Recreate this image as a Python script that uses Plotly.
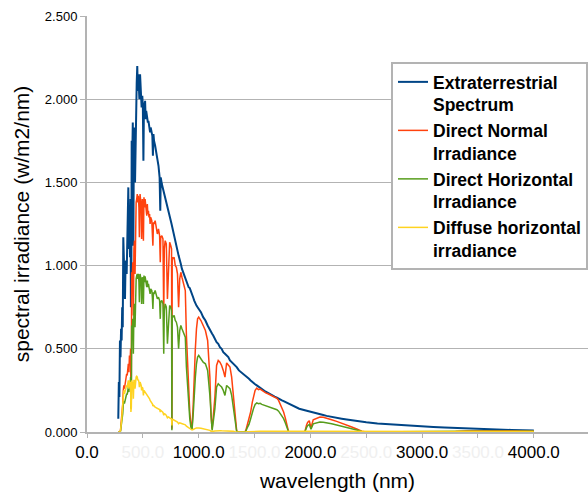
import plotly.graph_objects as go

wavelength_nm = [
    280, 285, 290, 295, 300, 305, 310, 315, 320, 325,
    330, 335, 340, 345, 350, 355, 360, 365, 370, 375,
    380, 385, 390, 393, 397, 400, 405, 410, 415, 420,
    425, 430, 435, 440, 445, 450, 455, 460, 465, 469,
    475, 480, 485, 489, 495, 500, 505, 510, 515, 520,
    525, 530, 535, 540, 545, 550, 555, 560, 565, 570,
    575, 580, 585, 590, 595, 600, 610, 620, 630, 640,
    650, 656, 660, 670, 680, 687, 692, 700, 710, 720,
    730, 740, 750, 757, 760, 763, 770, 780, 790, 800,
    810, 820, 830, 840, 850, 860, 870, 880, 890, 900,
    910, 920, 930, 940, 950, 960, 970, 980, 990, 1000,
    1020, 1040, 1060, 1080, 1100, 1110, 1120, 1130, 1145, 1160,
    1175, 1190, 1205, 1220, 1235, 1250, 1265, 1280, 1295, 1310,
    1325, 1340, 1360, 1380, 1400, 1420, 1435, 1450, 1465, 1480,
    1490, 1505, 1520, 1535, 1550, 1565, 1580, 1600, 1620, 1640,
    1660, 1680, 1700, 1715, 1730, 1745, 1760, 1775, 1790, 1805,
    1850, 1900, 1950, 1965, 1975, 1990, 2005, 2025, 2055, 2085,
    2115, 2145, 2190, 2235, 2280, 2325, 2370, 2415, 2460, 2500,
    2600, 2700, 2800, 2900, 3000, 3100, 3200, 3300, 3400, 3500,
    3600, 3700, 3800, 3900, 4000,
]

extraterrestrial = [
    0.08, 0.30, 0.21, 0.55, 0.45, 0.62, 0.55, 0.75, 0.63, 1.17,
    1.05, 0.95, 0.80, 1.00, 1.03, 0.95, 1.10, 1.25, 1.47, 1.10,
    1.30, 1.05, 1.40, 0.75, 0.90, 1.75, 1.65, 1.86, 1.12, 1.83,
    1.75, 1.50, 1.85, 1.95, 2.10, 2.20, 2.05, 2.15, 2.08, 2.00,
    2.15, 2.10, 2.00, 1.95, 2.02, 1.96, 1.63, 1.98, 1.90, 1.99,
    1.88, 1.93, 1.90, 1.91, 1.86, 1.87, 1.84, 1.85, 1.80, 1.83,
    1.81, 1.80, 1.78, 1.66, 1.79, 1.75, 1.72, 1.69, 1.64, 1.60,
    1.53, 1.33, 1.53, 1.49, 1.46, 1.44, 1.43, 1.41, 1.38, 1.35,
    1.32, 1.29, 1.27, 1.25, 1.24, 1.23, 1.20, 1.17, 1.15, 1.12,
    1.09, 1.06, 1.04, 1.01, 0.98, 0.96, 0.94, 0.92, 0.90, 0.89,
    0.87, 0.865, 0.85, 0.83, 0.81, 0.79, 0.77, 0.76, 0.75, 0.74,
    0.72, 0.69, 0.67, 0.64, 0.61, 0.60, 0.59, 0.58, 0.56, 0.54,
    0.53, 0.51, 0.50, 0.48, 0.47, 0.46, 0.45, 0.43, 0.42, 0.41,
    0.40, 0.39, 0.37, 0.36, 0.35, 0.34, 0.33, 0.32, 0.31, 0.30,
    0.295, 0.287, 0.28, 0.272, 0.265, 0.258, 0.25, 0.242, 0.235, 0.226,
    0.22, 0.213, 0.207, 0.20, 0.196, 0.19, 0.185, 0.18, 0.175, 0.17,
    0.157, 0.14, 0.131, 0.128, 0.126, 0.123, 0.12, 0.117, 0.112, 0.107,
    0.102, 0.097, 0.09, 0.085, 0.08, 0.075, 0.07, 0.065, 0.061, 0.058,
    0.051, 0.046, 0.042, 0.038, 0.034, 0.03, 0.027, 0.024, 0.021, 0.018,
    0.016, 0.014, 0.012, 0.011, 0.009,
]

direct_normal = [
    0, 0, 0, 0, 0.01, 0.04, 0.08, 0.13, 0.17, 0.25,
    0.28, 0.26, 0.29, 0.31, 0.33, 0.35, 0.34, 0.39, 0.41, 0.36,
    0.46, 0.40, 0.50, 0.21, 0.30, 0.96, 0.92, 1.02, 0.70, 1.10,
    1.15, 0.95, 1.25, 1.38, 1.40, 1.43, 1.38, 1.42, 1.35, 1.17,
    1.43, 1.40, 1.36, 1.16, 1.40, 1.38, 1.15, 1.41, 1.35, 1.40,
    1.36, 1.35, 1.30, 1.37, 1.31, 1.33, 1.29, 1.31, 1.25, 1.29,
    1.28, 1.27, 1.22, 1.12, 1.26, 1.25, 1.27, 1.24, 1.19, 1.22,
    1.18, 1.02, 1.17, 1.18, 1.16, 0.70, 1.10, 1.15, 1.13, 0.80,
    0.95, 1.14, 1.12, 1.10, 0.02, 1.05, 1.04, 1.05, 1.00, 0.99,
    0.95, 0.75, 0.92, 0.96, 0.93, 0.90, 0.88, 0.85, 0.58, 0.40,
    0.30, 0.12, 0.05, 0.02, 0.15, 0.38, 0.50, 0.62, 0.68, 0.69,
    0.67, 0.64, 0.61, 0.55, 0.33, 0.10, 0.02, 0.09, 0.21, 0.40,
    0.43, 0.42, 0.40, 0.37, 0.33, 0.415, 0.40, 0.39, 0.33, 0.21,
    0.09, 0.005, 0, 0, 0, 0.005, 0.04, 0.07, 0.12, 0.18,
    0.21, 0.25, 0.264, 0.255, 0.258, 0.25, 0.244, 0.235, 0.23, 0.222,
    0.216, 0.21, 0.203, 0.19, 0.17, 0.145, 0.12, 0.085, 0.045, 0,
    0, 0, 0, 0.04, 0.058, 0.068, 0.024, 0.074, 0.084, 0.09,
    0.088, 0.084, 0.074, 0.064, 0.054, 0.044, 0.03, 0.018, 0.005, 0,
    0, 0, 0, 0.001, 0, 0.002, 0.001, 0.003, 0.006, 0.007,
    0.008, 0.007, 0.007, 0.006, 0.005,
]

direct_horizontal = [
    0, 0, 0, 0, 0.005, 0.025, 0.05, 0.085, 0.11, 0.165,
    0.185, 0.17, 0.19, 0.205, 0.22, 0.23, 0.225, 0.26, 0.27, 0.24,
    0.30, 0.265, 0.33, 0.14, 0.20, 0.64, 0.61, 0.68, 0.47, 0.73,
    0.77, 0.63, 0.83, 0.92, 0.94, 0.95, 0.92, 0.95, 0.90, 0.78,
    0.95, 0.935, 0.91, 0.77, 0.93, 0.92, 0.77, 0.94, 0.90, 0.935,
    0.91, 0.90, 0.87, 0.91, 0.87, 0.89, 0.86, 0.87, 0.83, 0.86,
    0.85, 0.85, 0.81, 0.74, 0.84, 0.83, 0.85, 0.83, 0.80, 0.81,
    0.79, 0.68, 0.78, 0.79, 0.77, 0.47, 0.73, 0.77, 0.75, 0.53,
    0.63, 0.76, 0.75, 0.73, 0.01, 0.70, 0.69, 0.70, 0.67, 0.66,
    0.63, 0.50, 0.61, 0.64, 0.62, 0.60, 0.59, 0.57, 0.39, 0.27,
    0.20, 0.08, 0.03, 0.013, 0.10, 0.25, 0.33, 0.41, 0.45, 0.46,
    0.44, 0.42, 0.41, 0.37, 0.22, 0.07, 0.01, 0.06, 0.14, 0.27,
    0.29, 0.28, 0.27, 0.25, 0.22, 0.28, 0.27, 0.26, 0.22, 0.14,
    0.06, 0.003, 0, 0, 0, 0.003, 0.026, 0.046, 0.08, 0.12,
    0.14, 0.165, 0.175, 0.17, 0.172, 0.166, 0.162, 0.156, 0.152, 0.147,
    0.143, 0.139, 0.134, 0.125, 0.112, 0.096, 0.08, 0.056, 0.03, 0,
    0, 0, 0, 0.026, 0.038, 0.045, 0.016, 0.049, 0.056, 0.06,
    0.058, 0.056, 0.049, 0.042, 0.036, 0.029, 0.02, 0.012, 0.003, 0,
    0, 0, 0, 0.001, 0, 0.001, 0.001, 0.002, 0.004, 0.005,
    0.005, 0.005, 0.005, 0.004, 0.004,
]

diffuse_horizontal = [
    0, 0, 0, 0, 0.01, 0.03, 0.07, 0.12, 0.16, 0.22,
    0.25, 0.23, 0.24, 0.26, 0.27, 0.28, 0.27, 0.30, 0.31, 0.26,
    0.31, 0.27, 0.30, 0.12, 0.15, 0.31, 0.29, 0.30, 0.20, 0.31,
    0.31, 0.26, 0.32, 0.33, 0.335, 0.33, 0.31, 0.315, 0.30, 0.27,
    0.30, 0.29, 0.28, 0.25, 0.27, 0.26, 0.22, 0.25, 0.245, 0.24,
    0.235, 0.23, 0.225, 0.22, 0.218, 0.214, 0.208, 0.20, 0.19, 0.185,
    0.18, 0.175, 0.17, 0.155, 0.16, 0.157, 0.15, 0.145, 0.14, 0.138,
    0.135, 0.12, 0.13, 0.125, 0.118, 0.10, 0.11, 0.108, 0.10, 0.085,
    0.09, 0.085, 0.08, 0.078, 0.04, 0.076, 0.075, 0.072, 0.068, 0.065,
    0.06, 0.05, 0.055, 0.053, 0.05, 0.048, 0.045, 0.043, 0.035, 0.03,
    0.027, 0.022, 0.015, 0.012, 0.015, 0.02, 0.022, 0.024, 0.025, 0.024,
    0.022, 0.02, 0.018, 0.015, 0.01, 0.005, 0.003, 0.004, 0.006, 0.008,
    0.008, 0.008, 0.007, 0.007, 0.006, 0.007, 0.006, 0.006, 0.005, 0.004,
    0.002, 0.001, 0, 0, 0, 0, 0.001, 0.002, 0.002, 0.003,
    0.003, 0.004, 0.004, 0.004, 0.004, 0.004, 0.004, 0.003, 0.003, 0.003,
    0.003, 0.003, 0.002, 0.002, 0.002, 0.001, 0.001, 0.001, 0, 0,
    0, 0, 0, 0.001, 0.001, 0.001, 0, 0.001, 0.001, 0.001,
    0.001, 0.001, 0.001, 0.001, 0.001, 0, 0, 0, 0, 0,
    0, 0, 0, 0, 0, 0, 0, 0.001, 0.002, 0.003,
    0.003, 0.003, 0.003, 0.003, 0.003,
]

series_names = [
    "Extraterrestrial<br>Spectrum",
    "Direct Normal<br>Irradiance",
    "Direct Horizontal<br>Irradiance",
    "Diffuse horizontal<br>irradiance",
]
series_colors = ["#004586", "#ff420e", "#579d1c", "#ffd320"]
series_widths = [2, 1.5, 1.5, 1.5]

x_tick_values = [0, 500, 1000, 1500, 2000, 2500, 3000, 3500, 4000]
x_tick_labels = ["0.0", "500.0", "1000.0", "1500.0", "2000.0",
                 "2500.0", "3000.0", "3500.0", "4000.0"]
y_tick_values = [0, 0.5, 1.0, 1.5, 2.0, 2.5]

n = len(wavelength_nm)
assert all(len(s) == n for s in [extraterrestrial, direct_normal,
                                 direct_horizontal, diffuse_horizontal])

FONT = "Liberation Sans, Arial, sans-serif"
GRID = "#b3b3b3"

fig = go.Figure()
for name, vals, col, w in zip(series_names,
                              [extraterrestrial, direct_normal,
                               direct_horizontal, diffuse_horizontal],
                              series_colors, series_widths):
    fig.add_trace(go.Scatter(x=wavelength_nm, y=vals, mode="lines", name=name,
                             line=dict(color=col, width=w)))

# faint labels at the half-thousand ticks, as in the reference
tick_text = []
for v, t in zip(x_tick_values, x_tick_labels):
    if v % 1000 == 0:
        tick_text.append(t)
    else:
        tick_text.append(f"<span style='color:#f0f0f0'>{t}</span>")

fig.update_layout(
    width=588, height=493,
    margin=dict(l=87, r=0, t=16, b=61),
    paper_bgcolor="white", plot_bgcolor="white",
    font=dict(family=FONT, color="black"),
    showlegend=True,
    legend=dict(
        x=1, xanchor="right", y=(432 - 62) / 416, yanchor="top",
        bgcolor="white", bordercolor=GRID, borderwidth=2,
        font=dict(family=FONT, size=17.5, color="black", weight="bold"),
        valign="top", tracegroupgap=0, itemwidth=30,
    ),
    xaxis=dict(
        range=[0, 4485], tickmode="array", tickvals=x_tick_values, ticktext=tick_text,
        ticks="outside", ticklen=4, tickcolor=GRID, tickwidth=1,
        showline=True, linecolor=GRID, linewidth=2,
        showgrid=False, zeroline=False,
        tickfont=dict(family=FONT, size=17, color="black"),
        title=dict(text="wavelength (nm)", font=dict(family=FONT, size=21, color="black"),
                   standoff=12),
    ),
    yaxis=dict(
        range=[0, 2.5], tickmode="array", tickvals=y_tick_values, tickformat=".3f",
        ticks="outside", ticklen=5, tickcolor=GRID, tickwidth=1,
        showline=True, linecolor=GRID, linewidth=2,
        showgrid=True, gridcolor=GRID, gridwidth=1, zeroline=False,
        tickfont=dict(family=FONT, size=13, color="black"),
        title=dict(text="spectral irradiance (w/m2/nm)",
                   font=dict(family=FONT, size=21, color="black"), standoff=10),
    ),
)

fig.write_html(
    "out.html",
    config={"displayModeBar": False},
    post_script="document.body.style.margin='0';document.body.style.overflow='hidden';",
)
